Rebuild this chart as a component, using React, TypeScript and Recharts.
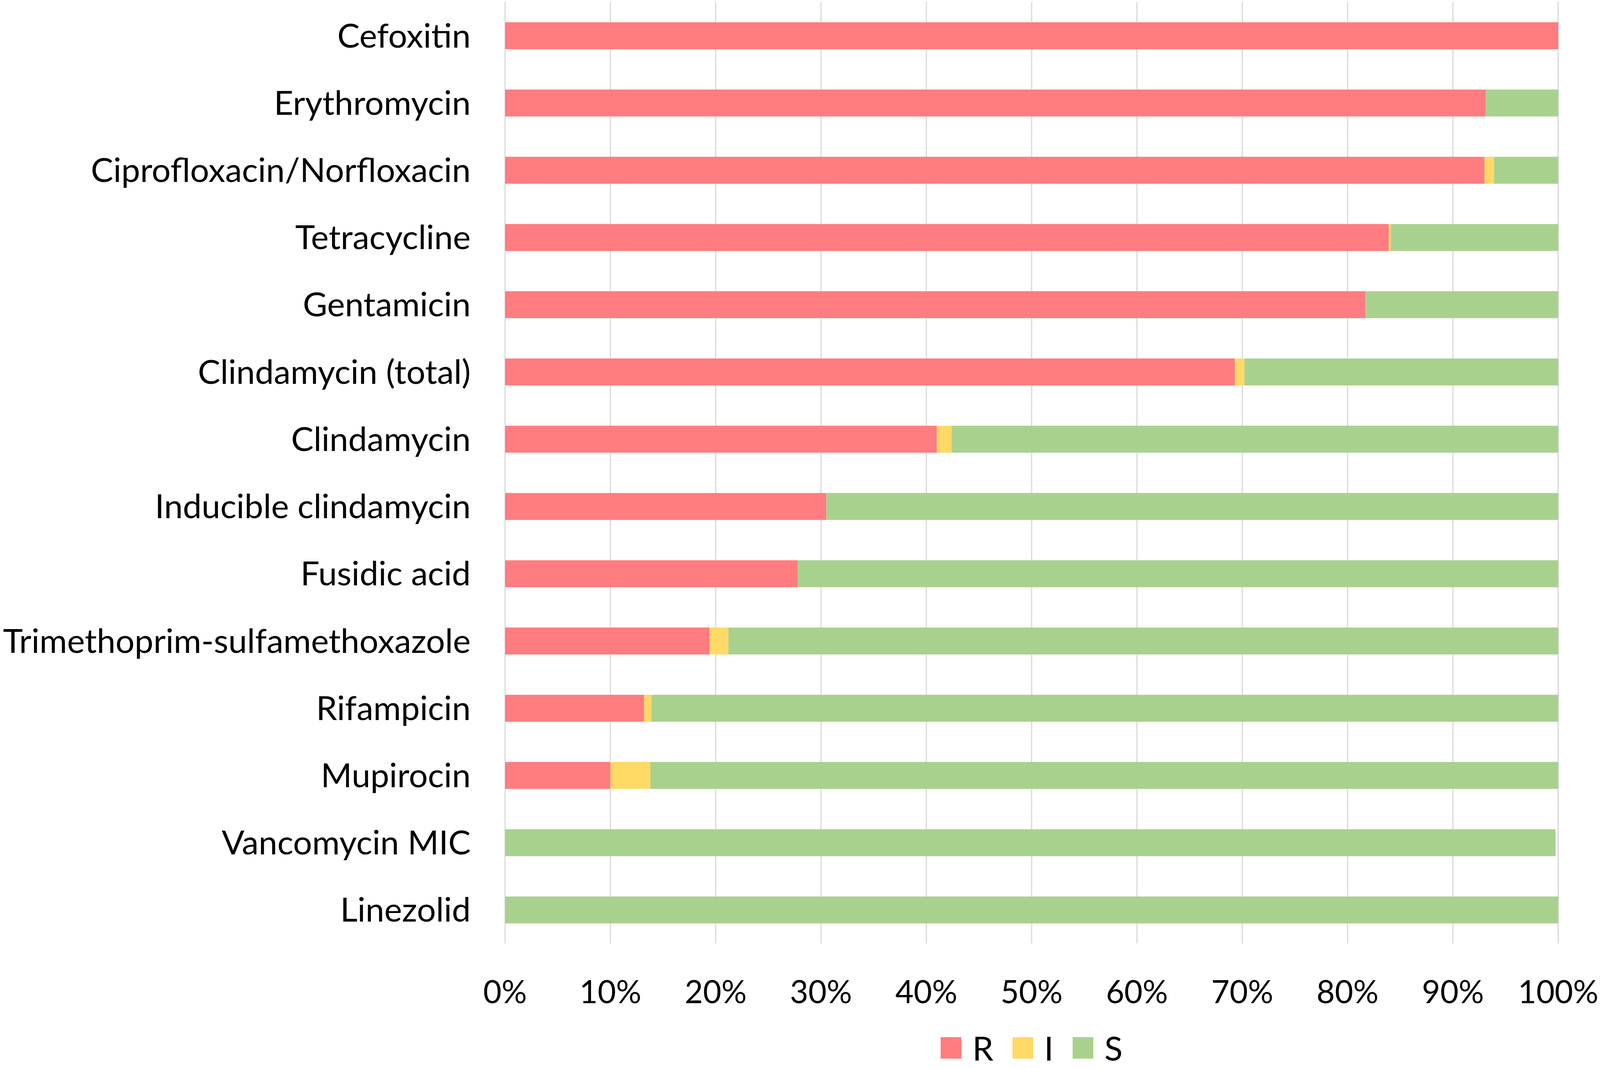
import React from 'react';
import { BarChart, Bar, XAxis, YAxis, CartesianGrid, Legend } from 'recharts';

const categories = [
  'Cefoxitin',
  'Erythromycin',
  'Ciprofloxacin/Norfloxacin',
  'Tetracycline',
  'Gentamicin',
  'Clindamycin (total)',
  'Clindamycin',
  'Inducible clindamycin',
  'Fusidic acid',
  'Trimethoprim-sulfamethoxazole',
  'Rifampicin',
  'Mupirocin',
  'Vancomycin MIC',
  'Linezolid',
];

const resistant = [100, 93.1, 93.0, 83.9, 81.7, 69.3, 41.0, 30.5, 27.8, 19.4, 13.2, 10.0, 0, 0];
const intermediate = [0, 0, 0.9, 0.2, 0, 0.9, 1.4, 0, 0, 1.8, 0.7, 3.8, 0, 0];
const susceptible = [0, 6.9, 6.1, 15.9, 18.3, 29.8, 57.6, 69.5, 72.2, 78.8, 86.1, 86.2, 99.75, 100];

const xTicks = [0, 10, 20, 30, 40, 50, 60, 70, 80, 90, 100];

const seriesNames = ['R', 'I', 'S'];
const seriesColors = ['#FF7C80', '#FFD966', '#A9D18E'];

const data = categories.map((name, i) => ({
  name,
  R: resistant[i],
  I: intermediate[i],
  S: susceptible[i],
}));

const FONT = 'Lato, "Open Sans", sans-serif';
const FS = 86;
const TICK_FS = 81;

const LegendContent = () => (
  <div
    style={{
      display: 'flex',
      justifyContent: 'center',
      alignItems: 'center',
      height: 90,
      fontFamily: FONT,
      fontSize: FS,
      color: '#000',
    }}
  >
    {seriesNames.map((n, i) => (
      <div key={n} style={{ display: 'flex', alignItems: 'center', marginRight: i < 2 ? 49 : 0 }}>
        <div style={{ width: 53, height: 55, background: seriesColors[i], marginRight: 28 }} />
        <span style={{ lineHeight: 1 }}>{n}</span>
      </div>
    ))}
  </div>
);

export default function App() {
  return (
    <div style={{ position: 'absolute', left: 0, top: 0, width: 4096, height: 2735, background: '#fff' }}>
      <BarChart
        width={4096}
        height={2735}
        data={data}
        layout="vertical"
        margin={{ top: 5, right: 107, bottom: 69, left: 0 }}
        barSize={69}
      >
        <CartesianGrid horizontal={false} vertical={true} stroke="#D9D9D9" strokeWidth={3} />
        <XAxis
          type="number"
          domain={[0, 100]}
          ticks={xTicks}
          tickFormatter={(v) => `${v}%`}
          axisLine={false}
          tickLine={false}
          tickSize={0}
          tickMargin={95}
          height={160}
          interval={0}
          tick={{ fill: '#000', fontSize: TICK_FS, fontFamily: FONT }}
        />
        <YAxis
          type="category"
          dataKey="name"
          width={1293}
          axisLine={false}
          tickLine={false}
          tickSize={0}
          tickMargin={88}
          interval={0}
          tick={{ fill: '#000', fontSize: FS, fontFamily: FONT }}
        />
        <Legend
          verticalAlign="bottom"
          content={<LegendContent />}
          wrapperStyle={{ left: 1293, width: 2696, top: 2638, height: 90 }}
        />
        {seriesNames.map((n, i) => (
          <Bar key={n} dataKey={n} stackId="a" fill={seriesColors[i]} isAnimationActive={false} />
        ))}
      </BarChart>
    </div>
  );
}
